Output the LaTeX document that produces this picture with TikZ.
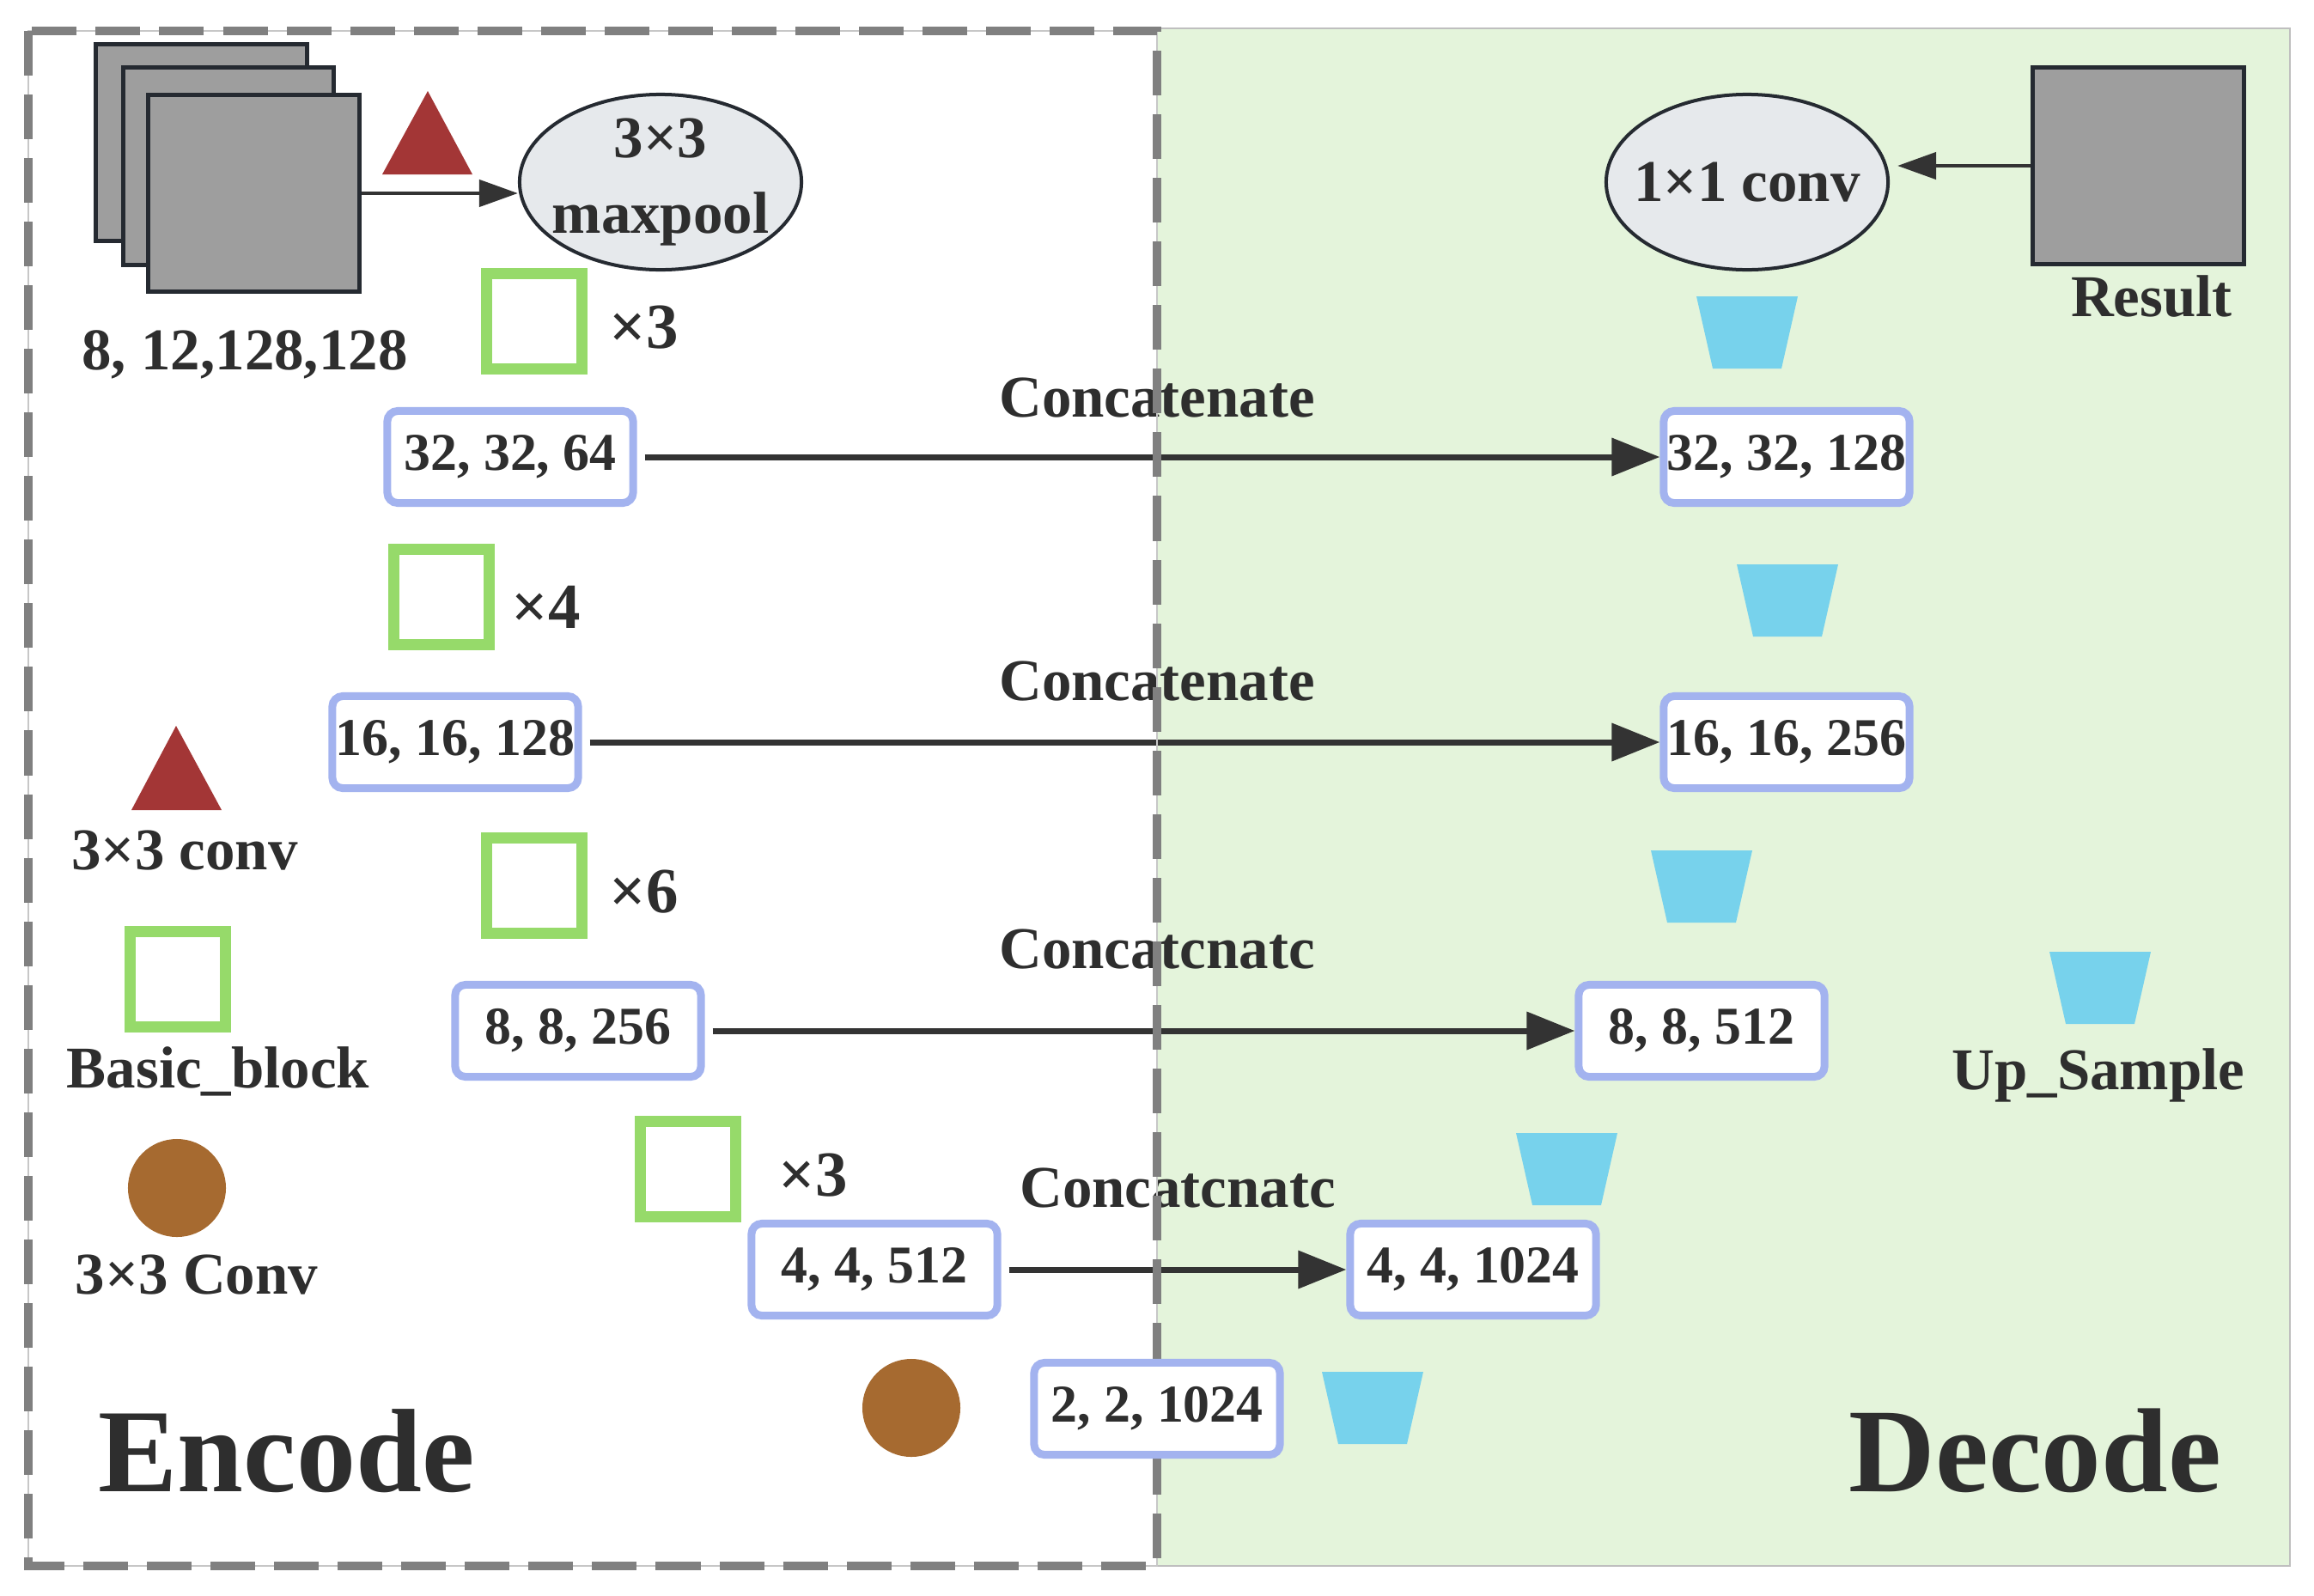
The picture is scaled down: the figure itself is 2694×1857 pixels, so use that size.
\documentclass[tikz,border=0pt]{standalone}
\usepackage{fontspec}
\setmainfont{Liberation Serif}
\usetikzlibrary{arrows.meta,shapes.geometric}
\definecolor{rectgray}{HTML}{9E9E9E}
\definecolor{edgec}{HTML}{252A31}
\definecolor{ellfill}{HTML}{E6E9EC}
\definecolor{boxblue}{HTML}{A3B3EF}
\definecolor{sqgreen}{HTML}{96DA6A}
\definecolor{upc}{HTML}{77D2EC}
\definecolor{redc}{HTML}{A33636}
\definecolor{brownc}{HTML}{A66A30}
\definecolor{greenbg}{HTML}{E4F4DB}
\definecolor{dashc}{HTML}{808080}
\definecolor{arrc}{HTML}{333333}
\definecolor{txt}{HTML}{2E2E2E}
\newcommand\upsamp[2]{\fill[upc] (#1-59,#2) -- (#1+59,#2) -- (#1+40,#2+84) -- (#1-40,#2+84) -- cycle;}
\tikzset{
 stackrect/.style={draw=edgec, fill=rectgray, line width=0.05cm, minimum width=2.45cm, minimum height=2.29cm, inner sep=0},
 ell/.style={ellipse, draw=edgec, fill=ellfill, line width=0.04cm, minimum width=3.28cm, minimum height=2.04cm, inner sep=0},
 elltext/.style={inner sep=0, align=center, text=txt, font=\bfseries\fontsize{19.6}{25}\selectfont},
 dbox/.style={draw=boxblue, fill=white, line width=0.09cm, rounded corners=0.12cm, minimum width=2.86cm, minimum height=1.07cm, inner sep=0, text=txt, font=\bfseries\fontsize{17.6}{20}\selectfont},
 gsq/.style={draw=sqgreen, line width=0.13cm, minimum size=1.11cm, inner sep=0},
 lbl/.style={text=txt, font=\bfseries\fontsize{19.6}{23}\selectfont, inner sep=0, anchor=base},
 mult/.style={text=txt, font=\bfseries\fontsize{21.3}{24}\selectfont, inner sep=0, anchor=base},
 big/.style={text=txt, font=\bfseries\fontsize{39.3}{44}\selectfont, inner sep=0, anchor=base west},
 arr/.style={draw=arrc, line width=0.07cm, -{Triangle[length=0.56cm,width=0.43cm]}},
 sarr/.style={draw=arrc, line width=0.045cm, -{Triangle[length=0.45cm,width=0.31cm]}},
 browndot/.style={circle, fill=brownc, minimum size=1.14cm, inner sep=0},
}
\begin{document}
\begin{tikzpicture}[x=0.01cm,y=-0.01cm]
\useasboundingbox (0,0) rectangle (2694,1857);
\fill[white] (0,0) rectangle (2694,1857);
% decode background
\draw[fill=greenbg, draw=black!25, line width=0.02cm] (1347,33) rectangle (2666,1823);

% input stack
\node[stackrect] (r1) at (234.5,166) {};
\node[stackrect] (r2) at (266,193.5) {};
\node[stackrect] (r3) at (295.5,225) {};
\fill[redc] (498,106) -- (550,203) -- (445,203) -- cycle;
\node[ell] (mp) at (769,212) {};
\node[elltext] (mptxt) at (mp.center) {3×3\\maxpool};
\draw[sarr] (r3.east) -- (r3.east -| mp.west);
\node[lbl] (inlbl) at (285,430) {8, 12,128,128};

% result
\node[stackrect] (res) at (2489.5,193) {};
\node[lbl] (reslbl) at (2505,368) {Result};
\node[ell] (cv) at (2034,212) {};
\node[elltext] (cvtxt) at (cv.center) {1×1 conv};
\draw[sarr, shorten >=0.09cm] (res.west) -- (res.west -| cv.east);

% green blocks
\node[gsq] (g1) at (622,374) {};
\node[mult] (m1) at (750,405) {×3};
\node[gsq] (g2) at (514,695) {};
\node[mult] (m2) at (636,731) {×4};
\node[gsq] (g3) at (622,1031) {};
\node[mult] (m3) at (750,1062) {×6};
\node[gsq] (g4) at (801,1361) {};
\node[mult] (m4) at (947,1392) {×3};

% upsample shapes
\upsamp{2034}{345}
\upsamp{2081}{657}
\upsamp{1981}{990}
\upsamp{1824}{1319}
\upsamp{1598}{1597}
\upsamp{2445}{1108}

% feature boxes
\node[dbox] (b1) at (594,532) {32, 32, 64};
\node[dbox] (b2) at (2080,532) {32, 32, 128};
\node[dbox] (b3) at (530,864) {16, 16, 128};
\node[dbox] (b4) at (2080,864) {16, 16, 256};
\node[dbox] (b5) at (673,1200) {8, 8, 256};
\node[dbox] (b6) at (1981,1200) {8, 8, 512};
\node[dbox] (b7) at (1018,1478) {4, 4, 512};
\node[dbox] (b8) at (1715,1478) {4, 4, 1024};

\draw[arr, shorten <=0.09cm] (b1.east) -- (b2.west);
\draw[arr, shorten <=0.09cm] (b3.east) -- (b4.west);
\draw[arr, shorten <=0.09cm] (b5.east) -- (b6.west);
\draw[arr, shorten <=0.09cm] (b7.east) -- (b8.west);

\node[lbl] (c1) at (1347,485) {Concatenate};
\node[lbl] (c2) at (1347,815) {Concatenate};
\node[lbl] (c3) at (1347,1127) {Concatcnatc};
\node[lbl] (c4) at (1371,1405) {Concatcnatc};

% encoder dashed frame
\draw[black!22, line width=0.02cm] (33,36) rectangle (1347,1823);
\draw[dashc, line width=0.1cm, dash pattern=on 0.52cm off 0.22cm] (33,36) rectangle (1347,1823);

\node[dbox] (b9) at (1347,1640) {2, 2, 1024};
\node[browndot] (bd) at (1061,1639) {};

% legend
\fill[redc] (205,845) -- (258,943) -- (153,943) -- cycle;
\node[lbl] (lg1) at (215,1012) {3×3 conv};
\node[gsq] (lg2) at (207,1140) {};
\node[lbl] (lg2t) at (254,1266) {Basic\_block};
\node[browndot] (lg3) at (206,1383) {};
\node[lbl] (lg3t) at (229,1506) {3×3 Conv};
\node[lbl] (lg4t) at (2443,1268) {Up\_Sample};

\node[big] (enc) at (114,1736) {Encode};
\node[big, font=\bfseries\fontsize{39.6}{44}\selectfont] (dec) at (2152,1736) {Decode};
\end{tikzpicture}
\end{document}
